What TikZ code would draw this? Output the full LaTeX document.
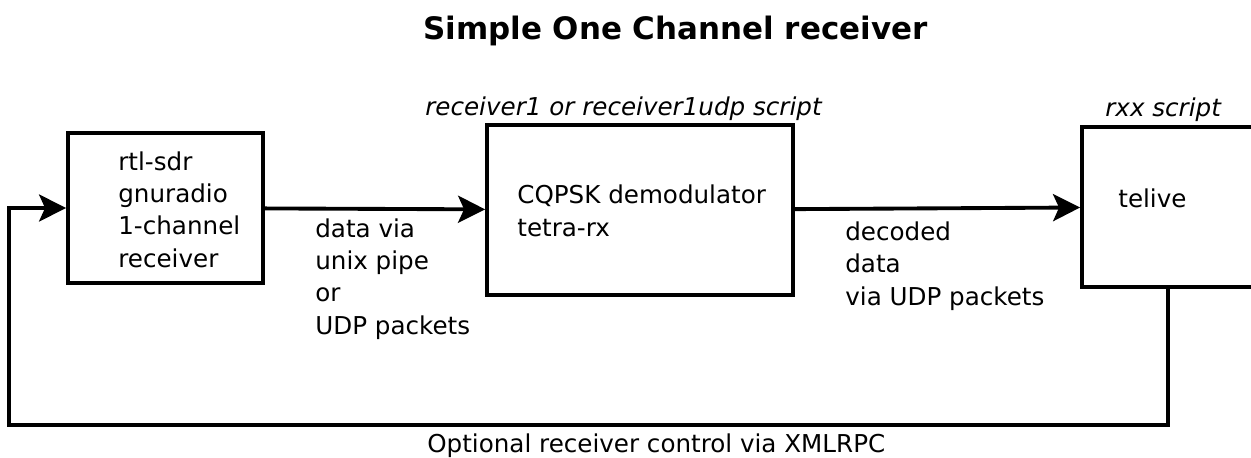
\documentclass[tikz,border=0pt]{standalone}
\usepackage{fontspec}
\setmainfont{DejaVu Sans}
\usetikzlibrary{arrows.meta, positioning}

\begin{document}
\begin{tikzpicture}[x=0.02cm, y=-0.02cm,
	>={Stealth[length=0.54cm, width=0.54cm, inset=0.12cm]},
	block/.style={draw, line width=2.2pt, inner sep=0pt},
	link/.style={line width=2.2pt},
	txt/.style={anchor=base west, align=left, inner sep=0pt,
		font=\fontsize{14}{18.3}\selectfont},
	script/.style={txt, font=\fontsize{14}{18.3}\selectfont\itshape}]
	
	% picture frame (box 3 runs past the right edge)
	\clip (0,0) rectangle (1251,457);
	
	% Title
	\node[anchor=base west, inner sep=0pt, font=\fontsize{17.6}{21}\selectfont\bfseries] (title) at (423,39) {Simple One Channel receiver};
	
	% 1. rtl-sdr receiver (last text line at 267)
	\node[block, minimum width=3.9cm, minimum height=3cm] (rtl) at (165.5,208) {};
	\node[txt] (rtltext) at (118,267) {rtl-sdr\\gnuradio\\1-channel\\receiver};
	
	% 2. Demodulator
	\node[block, minimum width=6.12cm, minimum height=3.4cm] (demod) at (640,210) {};
	\node[txt] (demodtext) at (517,236) {CQPSK demodulator\\tetra-rx};
	\node[script] (demodscript) at (425,115) {receiver1 or receiver1udp script};
	
	% 3. telive
	\node[block, minimum width=3.44cm, minimum height=3.2cm] (telive) at (1168,207) {};
	\node[txt] (telivetext) at (1118,207) {telive};
	\node[script] (telivescript) at (1105,116) {rxx script};
	
	% Connections
	\draw[link, ->] (rtl) -- (demod);
	\draw[link, ->] (demod) -- (telive);
	\node[txt] (pipetext) at (315,334) {data via\\unix pipe\\or\\UDP packets};
	\node[txt] (udptext) at (845,305) {decoded\\data\\via UDP packets};
	
	% Feedback loop
	\coordinate (loop) at (9,425);
	\draw[link, ->] (telive.south) |- (loop) |- (rtl.west);
	\node[txt] (looptext) at (427,452) {Optional receiver control via XMLRPC};
	
\end{tikzpicture}
\end{document}
